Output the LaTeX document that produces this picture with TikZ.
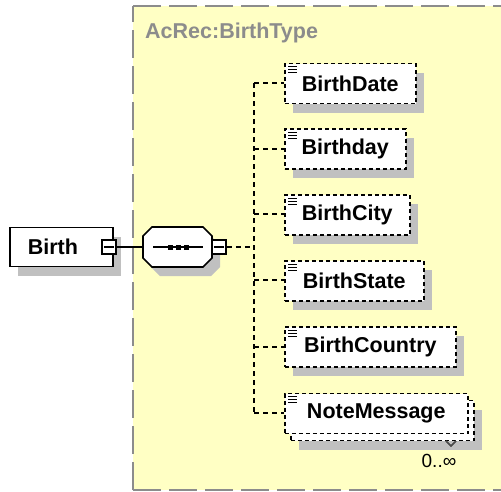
\documentclass[tikz,border=0pt]{standalone}
\usepackage{fontspec}
\setmainfont{Liberation Sans}
\usetikzlibrary{shadows,calc}
\definecolor{typebg}{HTML}{FFFFC4}
\definecolor{typeborder}{HTML}{8C8C8C}
\definecolor{shadowgray}{HTML}{C0C0C0}
\tikzset{
  x=1pt, y=-1pt,
  shad/.style={drop shadow={shadow xshift=8pt, shadow yshift=-9pt, fill=shadowgray, opacity=1}},
  elemfont/.style={font=\bfseries\fontsize{21.5}{24}\selectfont},
  elem/.style={elemfont, draw=black, line width=1.6pt, dash pattern=on 4pt off 3pt, fill=white,
    minimum height=40pt, anchor=west, inner sep=0pt, shad},
  backelem/.style={draw=black, line width=1.6pt, dash pattern=on 4pt off 3pt, fill=white,
    minimum height=40pt, anchor=west, inner sep=0pt, shad},
  frontelem/.style={elemfont, draw=black, line width=1.6pt, dash pattern=on 4pt off 3pt, fill=white,
    minimum height=40pt, anchor=west, inner sep=0pt},
  solidelem/.style={elemfont, draw=black, line width=1.8pt, fill=white,
    minimum height=39pt, anchor=west, inner sep=0pt, shad},
  seqanchor/.style={minimum width=69pt, minimum height=40pt, inner sep=0pt},
  seqline/.style={draw=black, line width=1.6pt, fill=white},
  minusbox/.style={draw=black, line width=1.5pt, fill=white, minimum size=14pt, inner sep=0pt},
  conn/.style={draw=black, line width=1.5pt, dash pattern=on 5pt off 4pt},
  solidconn/.style={draw=black, line width=1.5pt},
}
\newcommand\elemicon[1]{%
  \draw[line width=0.9pt] ($(#1.north west)+(4,4)$) -- ++(9,0)
    ($(#1.north west)+(4,7)$) -- ++(9,0)
    ($(#1.north west)+(4,10)$) -- ++(9,0);}
\newcommand\octpath[2]{% shift x, shift y
  (143+#1,236+#2) -- (152+#1,227+#2) -- (203+#1,227+#2) -- (212+#1,236+#2) --
  (212+#1,258+#2) -- (203+#1,267+#2) -- (152+#1,267+#2) -- (143+#1,258+#2) -- cycle}
\begin{document}
\begin{tikzpicture}
\useasboundingbox (0,0) rectangle (501,491);
\clip (0,0) rectangle (501,491);
% complex type region
\fill[typebg] (133,6) rectangle (510,490);
\draw[typeborder, line width=2pt, dash pattern=on 28pt off 8pt] (133,6) -- (510,6);
\draw[typeborder, line width=2pt, dash pattern=on 28pt off 8pt] (133,490) -- (133,6);
\draw[typeborder, line width=2pt, dash pattern=on 28pt off 8pt] (133,490) -- (510,490);
\node[elemfont, text=typeborder, anchor=west, inner sep=0pt] (title) at (145,33) {AcRec:BirthType};

% Birth element
\node[solidelem, minimum width=103pt] (birth) at (9,247) {Birth\hspace*{17pt}};
\node[minusbox] (bminus) at (109,247) {};
\draw[line width=1.5pt] ([xshift=3pt]bminus.west) -- ([xshift=-3pt]bminus.east);

% sequence compositor
\fill[shadowgray] \octpath{8}{9};
\path[seqline] \octpath{0}{0};
\node[seqanchor] (seq) at (177.5,247) {};
\draw[line width=1.5pt] (153,247) -- (203,247);
\foreach \dx in {170,178,186} \fill (\dx-2.5,244.5) rectangle (\dx+2.5,249.5);
\node[minusbox] (sminus) at (219,247) {};
\draw[line width=1.5pt] ([xshift=3pt]sminus.west) -- ([xshift=-3pt]sminus.east);
\draw[solidconn] (bminus.east) -- (seq.west);

% child elements
\node[elem, minimum width=131pt] (e1) at (284,83.5) {BirthDate};
\node[elem, minimum width=121pt] (e2) at (284,149) {Birthday};
\node[elem, minimum width=125pt] (e3) at (284,215) {BirthCity};
\node[elem, minimum width=139pt] (e4) at (284,281) {BirthState};
\node[elem, minimum width=171pt] (e5) at (284,347) {BirthCountry};
\node[backelem, minimum width=183pt] (e6b) at (290,420.5) {};
\node[frontelem, minimum width=183pt] (e6) at (284,413.5) {NoteMessage};
\foreach \n in {e1,e2,e3,e4,e5,e6} \elemicon{\n}
\draw[black!70, line width=1pt] (446,441) -- (451,446) -- (456,441);
\node[font=\fontsize{19}{22}\selectfont, inner sep=0pt] (occ) at (439,461) {0..∞};

% connectors
\coordinate (trunk) at (254,247);
\coordinate (j1) at (254,83);
\coordinate (j2) at (254,149);
\coordinate (j3) at (254,214);
\coordinate (j4) at (254,280);
\coordinate (j5) at (254,347);
\coordinate (j6) at (254,413);
\draw[conn] (sminus.east) -- (trunk);
\draw[conn] (j1) -- (j6);
\draw[conn] (j1) -- (e1.west |- j1);
\draw[conn] (j2) -- (e2.west |- j2);
\draw[conn] (j3) -- (e3.west |- j3);
\draw[conn] (j4) -- (e4.west |- j4);
\draw[conn] (j5) -- (e5.west |- j5);
\draw[conn] (j6) -- (e6.west |- j6);
\end{tikzpicture}
\end{document}
